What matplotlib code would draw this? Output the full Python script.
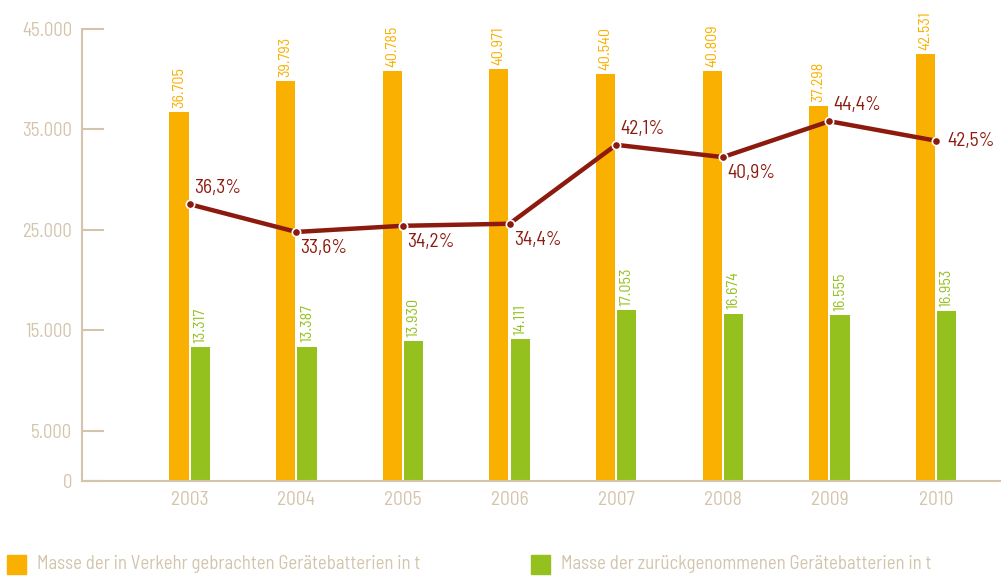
from matplotlib import pyplot as plt
from matplotlib import font_manager as fm
from matplotlib.patches import Rectangle

# data
years = ['2003', '2004', '2005', '2006', '2007', '2008', '2009', '2010']
in_verkehr = [36705, 39793, 40785, 40971, 40540, 40809, 37298, 42531]
zurueck = [13317, 13387, 13930, 14111, 17053, 16674, 16555, 16953]
quote = [36.3, 33.6, 34.2, 34.4, 42.1, 40.9, 44.4, 42.5]
yticks = [0, 5000, 15000, 25000, 35000, 45000]
ytick_labels = ['0', '5.000', '15.000', '25.000', '35.000', '45.000']
legend_labels = ['Masse der in Verkehr gebrachten Gerätebatterien in t',
                 'Masse der zurückgenommenen Gerätebatterien in t']

ORANGE = '#F9B000'
GREEN = '#95C11F'
RED = '#8C1A0E'
TAN = '#D3C4AC'

# pick the regular cut of Barlow Semi Condensed by file name
font_file = None
for f in fm.fontManager.ttflist:
    if f.fname.endswith('BarlowSemiCondensed-Regular.ttf'):
        font_file = f.fname
if font_file:
    fm.fontManager.addfont(font_file)
    base = fm.FontProperties(fname=font_file)
    plt.rcParams['font.family'] = [base.get_name(), 'DejaVu Sans']
else:
    base = fm.FontProperties(family='DejaVu Sans')


def fp(size):
    p = base.copy()
    p.set_size(size)
    return p


fig = plt.figure(figsize=(10.01, 5.78), dpi=100)
ax = fig.add_axes([82 / 1001, 97 / 578, 918 / 1001, 452 / 578])

x = list(range(len(years)))
w = 0.18
gap = 0.01
xo = [i - w / 2 - gap for i in x]
xg = [i + w / 2 + gap for i in x]
ax.bar(xo, in_verkehr, width=w, color=ORANGE, zorder=2)
ax.bar(xg, zurueck, width=w, color=GREEN, zorder=2)


def fmt(v):
    return f'{v:,}'.replace(',', '.')


for xi, v in zip(xo, in_verkehr):
    ax.annotate(fmt(v), (xi, v), xytext=(0, 3), textcoords='offset points',
                rotation=90, ha='center', va='bottom', color=ORANGE,
                fontproperties=fp(11.5))
for xi, v in zip(xg, zurueck):
    ax.annotate(fmt(v), (xi, v), xytext=(0, 3), textcoords='offset points',
                rotation=90, ha='center', va='bottom', color=GREEN,
                fontproperties=fp(11.5))

ax.set_xlim(-1.01, 7.6)
ax.set_ylim(0, 45000)
ax.set_yticks(yticks)
ax.set_yticklabels(ytick_labels, fontproperties=fp(13.5))
ax.set_xticks(x)
ax.set_xticklabels(years, fontproperties=fp(14))

for s in ['top', 'right']:
    ax.spines[s].set_visible(False)
for s in ['left', 'bottom']:
    ax.spines[s].set_color(TAN)
    ax.spines[s].set_linewidth(1.5)
ax.tick_params(axis='y', direction='in', length=16, width=1.5, color=TAN,
               labelcolor=TAN, pad=7)
ax.tick_params(axis='x', length=0, labelcolor=TAN, pad=7)
ax.get_yticklines()[0].set_visible(False)
ax.get_yticklines()[1].set_visible(False)

# percentage line on hidden second axis
ax2 = ax.twinx()
ax2.set_ylim(9.3, 53.4)
ax2.axis('off')
ax2.plot(x, quote, color=RED, linewidth=3.2, marker='o', markersize=6,
         markerfacecolor=RED, markeredgecolor='white', markeredgewidth=1.2,
         zorder=3, clip_on=False)

offsets = [(3, 5, 'bottom'), (3, -5, 'top'), (3, -5, 'top'), (3, -5, 'top'),
           (3, 5, 'bottom'), (3, -5, 'top'), (3, 5, 'bottom'), (8, 0, 'center')]
for xi, p, (dx, dy, va) in zip(x, quote, offsets):
    ax2.annotate(f'{p:.1f}%'.replace('.', ','), (xi, p), xytext=(dx, dy),
                 textcoords='offset points', ha='left', va=va, color=RED,
                 fontproperties=fp(14))

# legend
fig.patches.append(Rectangle((7 / 1001, 4 / 578), 19 / 1001, 19 / 578,
                             transform=fig.transFigure, color=ORANGE))
fig.patches.append(Rectangle((531 / 1001, 4 / 578), 19 / 1001, 19 / 578,
                             transform=fig.transFigure, color=GREEN))
fig.text(37 / 1001, 14 / 578, legend_labels[0], color=TAN, va='center',
         fontproperties=fp(13.5))
fig.text(561 / 1001, 14 / 578, legend_labels[1], color=TAN, va='center',
         fontproperties=fp(13.5))

fig.savefig('out.png', dpi=100)
